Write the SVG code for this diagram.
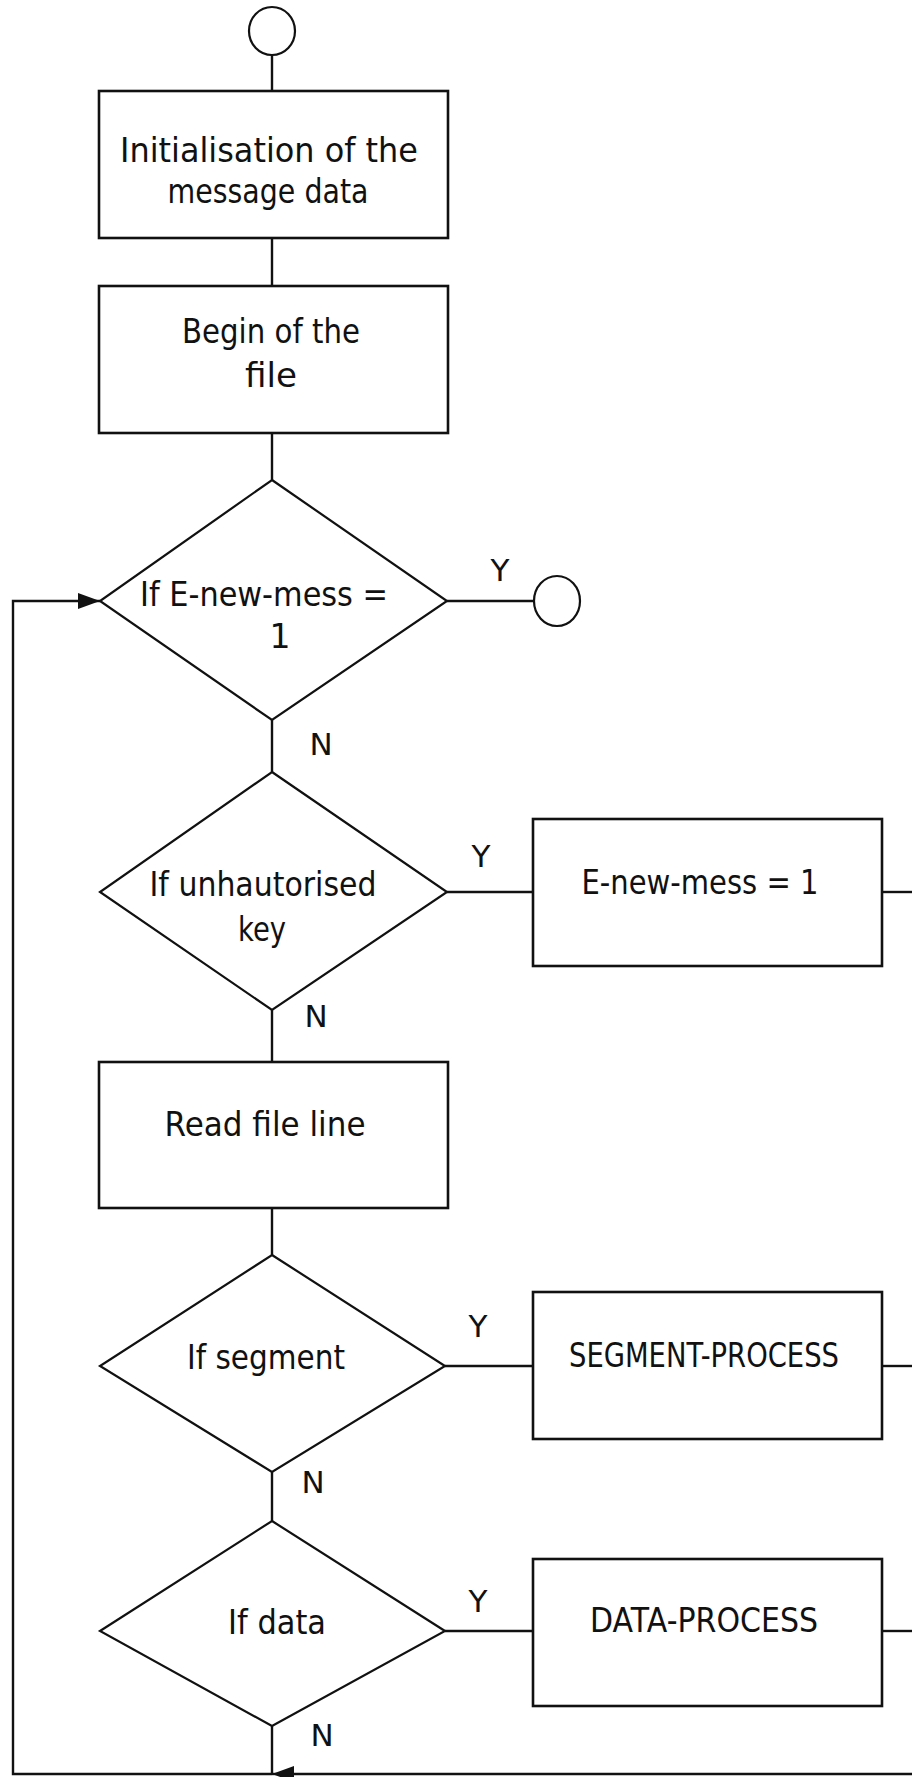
<svg xmlns="http://www.w3.org/2000/svg" width="912" height="1777" viewBox="0 0 912 1777">
  <style>
    .box { fill: #fff; stroke: #111; stroke-width: 2.6; }
    .dec { fill: #fff; stroke: #111; stroke-width: 2.2; }
    .term { fill: #fff; stroke: #111; stroke-width: 2.2; }
    .wire { fill: none; stroke: #111; stroke-width: 2.4; }
    .lbl { font-family: "DejaVu Sans", "Liberation Sans", sans-serif; font-size: 33px; fill: #111; text-anchor: middle; }
    .yn { font-family: "DejaVu Sans", "Liberation Sans", sans-serif; font-size: 31px; fill: #111; text-anchor: middle; }
  </style>
  <defs>
    <marker id="arrowhead" viewBox="0 0 22 16" refX="22" refY="8" markerWidth="22" markerHeight="16" markerUnits="userSpaceOnUse" orient="auto">
      <path d="M0,0 L22,8 L0,16 Z" fill="#111"/>
    </marker>
  </defs>
  <rect x="0" y="0" width="912" height="1777" fill="#fff"/>

  <!-- connectors -->
  <g id="connectors">
    <line class="wire" x1="272" y1="55" x2="272" y2="91"/>
    <line class="wire" x1="272" y1="238" x2="272" y2="286"/>
    <line class="wire" x1="272" y1="433" x2="272" y2="480"/>
    <line class="wire" x1="272" y1="720" x2="272" y2="772"/>
    <line class="wire" x1="272" y1="1010" x2="272" y2="1062"/>
    <line class="wire" x1="272" y1="1208" x2="272" y2="1255"/>
    <line class="wire" x1="272" y1="1472" x2="272" y2="1521"/>
    <line class="wire" x1="272" y1="1726" x2="272" y2="1774"/>
    <!-- Y branches -->
    <line class="wire" x1="447" y1="601" x2="534" y2="601"/>
    <line class="wire" x1="447" y1="892" x2="533" y2="892"/>
    <line class="wire" x1="882" y1="892" x2="912" y2="892"/>
    <line class="wire" x1="445" y1="1366" x2="533" y2="1366"/>
    <line class="wire" x1="882" y1="1366" x2="912" y2="1366"/>
    <line class="wire" x1="445" y1="1631" x2="533" y2="1631"/>
    <line class="wire" x1="882" y1="1631" x2="912" y2="1631"/>
    <!-- return loop -->
    <path class="wire" d="M912,1774 L294,1774" />
    <path class="wire" d="M294,1774 L272,1774" marker-end="url(#arrowhead)"/>
    <path class="wire" d="M272,1774 L13,1774 L13,601 L100,601" marker-end="url(#arrowhead)"/>
  </g>

  <g id="start">
    <ellipse class="term" cx="272" cy="31" rx="23" ry="24"/>
  </g>

  <g id="init">
    <rect class="box" x="99" y="91" width="349" height="147"/>
    <text class="lbl" x="269" y="162" textLength="298" lengthAdjust="spacingAndGlyphs">Initialisation of the</text>
    <text class="lbl" x="268" y="203" textLength="201" lengthAdjust="spacingAndGlyphs">message data</text>
  </g>

  <g id="begin">
    <rect class="box" x="99" y="286" width="349" height="147"/>
    <text class="lbl" x="271" y="343" textLength="178" lengthAdjust="spacingAndGlyphs">Begin of the</text>
    <text class="lbl" x="271" y="387" textLength="52" lengthAdjust="spacingAndGlyphs">file</text>
  </g>

  <g id="test-new-mess">
    <polygon class="dec" points="272,480 447,601 272,720 100,601"/>
    <text class="lbl" x="264" y="606" textLength="248" lengthAdjust="spacingAndGlyphs">If E-new-mess =</text>
    <text class="lbl" x="280" y="648">1</text>
    <text class="yn" x="500" y="581">Y</text>
    <text class="yn" x="321" y="755">N</text>
  </g>

  <g id="end">
    <ellipse class="term" cx="557" cy="601" rx="23" ry="25"/>
  </g>

  <g id="test-key">
    <polygon class="dec" points="272,772 447,892 272,1010 100,892"/>
    <text class="lbl" x="263" y="896" textLength="227" lengthAdjust="spacingAndGlyphs">If unhautorised</text>
    <text class="lbl" x="262" y="941" textLength="48" lengthAdjust="spacingAndGlyphs">key</text>
    <text class="yn" x="481" y="867">Y</text>
    <text class="yn" x="316" y="1027">N</text>
  </g>

  <g id="set-new-mess">
    <rect class="box" x="533" y="819" width="349" height="147"/>
    <text class="lbl" x="700" y="894" textLength="237" lengthAdjust="spacingAndGlyphs">E-new-mess = 1</text>
  </g>

  <g id="read-line">
    <rect class="box" x="99" y="1062" width="349" height="146"/>
    <text class="lbl" x="265" y="1136" textLength="201" lengthAdjust="spacingAndGlyphs">Read file line</text>
  </g>

  <g id="test-segment">
    <polygon class="dec" points="272,1255 445,1366 272,1472 100,1366"/>
    <text class="lbl" x="266" y="1369" textLength="158" lengthAdjust="spacingAndGlyphs">If segment</text>
    <text class="yn" x="478" y="1337">Y</text>
    <text class="yn" x="313" y="1493">N</text>
  </g>

  <g id="segment-process">
    <rect class="box" x="533" y="1292" width="349" height="147"/>
    <text class="lbl" x="704" y="1367" textLength="270" lengthAdjust="spacingAndGlyphs">SEGMENT-PROCESS</text>
  </g>

  <g id="test-data">
    <polygon class="dec" points="272,1521 445,1631 272,1726 100,1631"/>
    <text class="lbl" x="277" y="1634" textLength="98" lengthAdjust="spacingAndGlyphs">If data</text>
    <text class="yn" x="478" y="1612">Y</text>
    <text class="yn" x="322" y="1746">N</text>
  </g>

  <g id="data-process">
    <rect class="box" x="533" y="1559" width="349" height="147"/>
    <text class="lbl" x="704" y="1632" textLength="228" lengthAdjust="spacingAndGlyphs">DATA-PROCESS</text>
  </g>
</svg>
